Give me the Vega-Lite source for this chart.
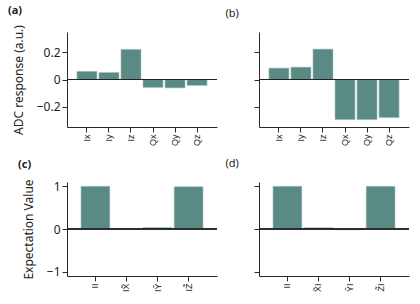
{
  "$schema": "https://vega.github.io/schema/vega-lite/v6.json",
  "padding": {"left": 7, "top": 4, "right": 4, "bottom": 4},
  "datasets": {
    "a": [
      {"label": "Ix", "value": 0.06},
      {"label": "Iy", "value": 0.052},
      {"label": "Iz", "value": 0.222},
      {"label": "Qx", "value": -0.059},
      {"label": "Qy", "value": -0.062},
      {"label": "Qz", "value": -0.044}
    ],
    "b": [
      {"label": "Ix", "value": 0.084},
      {"label": "Iy", "value": 0.091},
      {"label": "Iz", "value": 0.224},
      {"label": "Qx", "value": -0.296},
      {"label": "Qy", "value": -0.296},
      {"label": "Qz", "value": -0.281}
    ],
    "c": [
      {"label": "II", "value": 1.0},
      {"label": "IX̃", "value": 0.0},
      {"label": "IỸ", "value": 0.035},
      {"label": "IZ̃", "value": 0.99}
    ],
    "d": [
      {"label": "II", "value": 1.0},
      {"label": "X̃I", "value": 0.03},
      {"label": "ỸI", "value": -0.02},
      {"label": "Z̃I", "value": 1.0}
    ]
  },
  "config": {
    "font": "Noto Sans",
    "view": {"stroke": null},
    "axis": {
      "grid": false,
      "labelFont": "Noto Sans",
      "titleFont": "Noto Sans",
      "domainColor": "#2a2a2a",
      "tickColor": "#2a2a2a",
      "labelColor": "#222222",
      "titleColor": "#222222",
      "tickSize": 5,
      "labelFontSize": 12,
      "titleFontSize": 12,
      "titleFontWeight": "normal"
    },
    "title": {"fontSize": 11, "font": "Noto Sans", "anchor": "start", "frame": "bounds", "color": "#222222"}
  },
  "columns": 2,
  "spacing": {"column": 7, "row": 12},
  "concat": [
    {
      "width": 150, "height": 95,
      "title": {"text": "(a)", "fontWeight": "bold", "dx": -4, "offset": 9},
      "data": {"name": "a"},
      "layer": [
        {
          "mark": {"type": "bar", "color": "#598a84", "stroke": "#a9c7c2", "strokeWidth": 0.6},
          "encoding": {
            "x": {"field": "label", "type": "nominal", "sort": null,
                  "scale": {"paddingInner": 0.09, "paddingOuter": 0.45},
                  "axis": {"title": null, "labelAngle": -90, "labelFontSize": 9, "labelFont": "Liberation Sans"}},
            "y": {"field": "value", "type": "quantitative",
                  "scale": {"domain": [-0.35, 0.35], "nice": false},
                  "axis": {"values": [-0.2, 0, 0.2], "format": "~g", "title": "ADC response (a.u.)", "titleX": -42, "titleY": 47.5}}
          }
        },
        {"mark": {"type": "rule", "color": "#222222"}, "encoding": {"y": {"datum": 0}}}
      ]
    },
    {
      "width": 150, "height": 95,
      "title": {"text": "(b)", "fontWeight": "normal", "dx": -28, "offset": 13},
      "data": {"name": "b"},
      "layer": [
        {
          "mark": {"type": "bar", "color": "#598a84", "stroke": "#a9c7c2", "strokeWidth": 0.6},
          "encoding": {
            "x": {"field": "label", "type": "nominal", "sort": null,
                  "scale": {"paddingInner": 0.09, "paddingOuter": 0.45},
                  "axis": {"title": null, "labelAngle": -90, "labelFontSize": 9, "labelFont": "Liberation Sans"}},
            "y": {"field": "value", "type": "quantitative",
                  "scale": {"domain": [-0.35, 0.35], "nice": false},
                  "axis": {"values": [-0.2, 0, 0.2], "labels": false, "title": null}}
          }
        },
        {"mark": {"type": "rule", "color": "#222222"}, "encoding": {"y": {"datum": 0}}}
      ]
    },
    {
      "width": 150, "height": 94,
      "title": {"text": "(c)", "fontWeight": "bold", "dx": -4, "offset": 9},
      "data": {"name": "c"},
      "layer": [
        {
          "mark": {"type": "bar", "color": "#598a84", "stroke": "#a9c7c2", "strokeWidth": 0.6},
          "encoding": {
            "x": {"field": "label", "type": "nominal", "sort": null,
                  "scale": {"paddingInner": 0.07, "paddingOuter": 0.45},
                  "axis": {"title": null, "labelAngle": -90, "labelFontSize": 9, "labelFont": "Liberation Sans"}},
            "y": {"field": "value", "type": "quantitative",
                  "scale": {"domain": [-1.1, 1.1], "nice": false},
                  "axis": {"values": [-1, 0, 1], "format": "~g", "title": "Expectation Value", "titleX": -32, "titleY": 47}}
          }
        },
        {"mark": {"type": "rule", "color": "#222222"}, "encoding": {"y": {"datum": 0}}}
      ]
    },
    {
      "width": 150, "height": 94,
      "title": {"text": "(d)", "fontWeight": "normal", "dx": -28, "offset": 13},
      "data": {"name": "d"},
      "layer": [
        {
          "mark": {"type": "bar", "color": "#598a84", "stroke": "#a9c7c2", "strokeWidth": 0.6},
          "encoding": {
            "x": {"field": "label", "type": "nominal", "sort": null,
                  "scale": {"paddingInner": 0.07, "paddingOuter": 0.45},
                  "axis": {"title": null, "labelAngle": -90, "labelFontSize": 9, "labelFont": "Liberation Sans"}},
            "y": {"field": "value", "type": "quantitative",
                  "scale": {"domain": [-1.1, 1.1], "nice": false},
                  "axis": {"values": [-1, -0.5, 0, 0.5, 1], "labels": false, "title": null}}
          }
        },
        {"mark": {"type": "rule", "color": "#222222"}, "encoding": {"y": {"datum": 0}}}
      ]
    }
  ]
}
